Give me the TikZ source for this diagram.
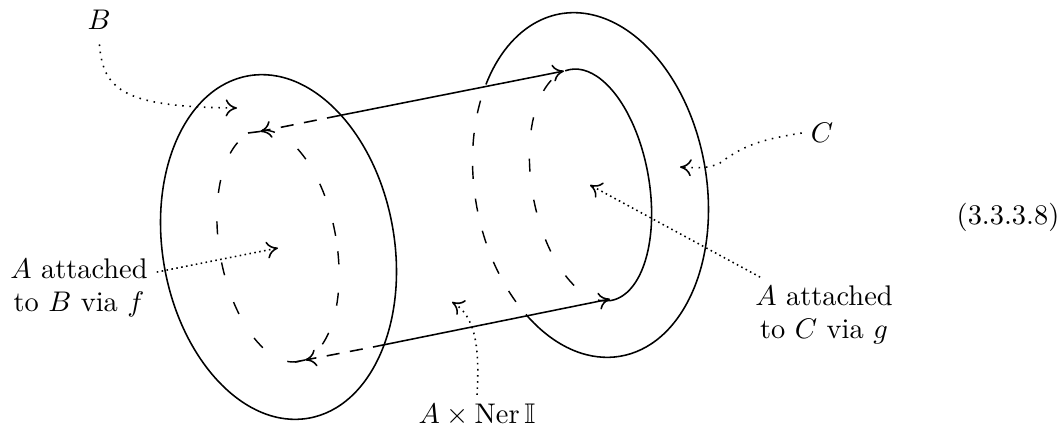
\documentclass[tikz,border=0pt]{standalone}
\usepackage{amssymb}
\usepackage{tikz}
\usetikzlibrary{arrows.meta}
\begin{document}
\begin{tikzpicture}[x=0.352pt,y=0.352pt,
    outline/.style={line width=0.55pt},
    hidden/.style={line width=0.5pt,dash pattern=on 4.6pt off 10pt},
    hiddenside/.style={line width=0.55pt,dash pattern=on 4.6pt off 3.7pt,dash phase=4.6pt},
    pointer/.style={line width=0.55pt,dotted,-{Computer Modern Rightarrow[length=4pt,width=6pt]}},
    closepointer/.style={pointer,dash pattern=on 0.55pt off 1.2pt},
    tipped/.style={-{Computer Modern Rightarrow[length=4pt,width=6pt]}},
    caption/.style={inner sep=3pt,align=center}]
    \pgfmathsetmacro{\outerx}{115.8}
    \pgfmathsetmacro{\outery}{173.8}
    \pgfmathsetmacro{\innerx}{58.5}
    \pgfmathsetmacro{\innery}{117.3}
    \pgfmathsetmacro{\tilt}{10}
    \useasboundingbox (0,0) rectangle (1063,431);
    % left end
    \draw[outline,rotate around={\tilt:(278.5,184)}] (278.5,184) ellipse [x radius=\outerx,y radius=\outery];
    \draw[hidden,rotate around={\tilt:(278,185)}] (278,185) ellipse [x radius=\innerx,y radius=\innery];
    % right end
    \begin{scope}[shift={(590.5,246)},rotate=\tilt]
        \draw[outline] (222:{\outerx} and {\outery}) arc [start angle=222,end angle=497.6,x radius=\outerx,y radius=\outery];
        \draw[hidden,dash pattern=on 4.6pt off 7pt,dash phase=5.6pt] (137.6:{\outerx} and {\outery}) arc [start angle=137.6,end angle=222,x radius=\outerx,y radius=\outery];
        \draw[outline] (-90:{\innerx} and {\innery}) arc [start angle=-90,end angle=95,x radius=\innerx,y radius=\innery];
        \draw[hidden,dash phase=8.6pt] (95:{\innerx} and {\innery}) arc [start angle=95,end angle=270,x radius=\innerx,y radius=\innery];
    \end{scope}
    % sides of the cylinder
    \coordinate (topleft) at (248,298);
    \coordinate (topmid) at (327,313);
    \coordinate (topright) at (564,360);
    \coordinate (botleft) at (295,69);
    \coordinate (botmid) at (373,84);
    \coordinate (botright) at (610,132);
    \coordinate (tiptop) at (260,299.5);
    \coordinate (tipbot) at (305,71);
    \draw[outline,tipped] (topmid) -- (topright);
    \draw[outline,tipped] (botmid) -- (botright);
    \draw[hiddenside,tipped] (topmid) -- (tiptop);
    \draw[outline] (tiptop) -- (topleft);
    \draw[hiddenside,tipped] (botmid) -- (tipbot);
    \draw[outline] (tipbot) -- (botleft);
    % labels
    \node[caption] (labelB) at (99,411) {$B$};
    \node[caption] (labelC) at (822,298) {$C$};
    \node[caption] (attachB) at (79,143) {$A$ attached\\[-0.6pt]to $B$ via $f$};
    \node[caption] (attachC) at (824,116) {$A$ attached\\[-0.6pt]to $C$ via $g$};
    \node[caption] (labelNer) at (477,16) {$A\times\mathrm{Ner}\,\mathbb{I}$};
    \node[caption] (number) at (1008,214) {(3.3.3.8)};
    % pointers
    \coordinate (tipB) at (237,323);
    \coordinate (tipC) at (680,264);
    \coordinate (tipattachB) at (278,183);
    \coordinate (tipattachC) at (590,246);
    \coordinate (tipNer) at (452,129);
    \draw[pointer,shorten <=2pt] (labelB.south) .. controls (103,340) and (125,324) .. (tipB);
    \draw[pointer] (labelC.west) .. controls (765,292) and (745,287) .. (720,268) .. controls (708,262) and (695,263) .. (tipC);
    \draw[closepointer] ([yshift=5.6pt]attachB.east) -- (tipattachB);
    \draw[closepointer] ([xshift=-22.5pt]attachC.north) -- (tipattachC);
    \draw[pointer,dash pattern=on 0.55pt off 1.6pt] (labelNer.north) .. controls (480,85) and (475,115) .. (tipNer);
\end{tikzpicture}
\end{document}
